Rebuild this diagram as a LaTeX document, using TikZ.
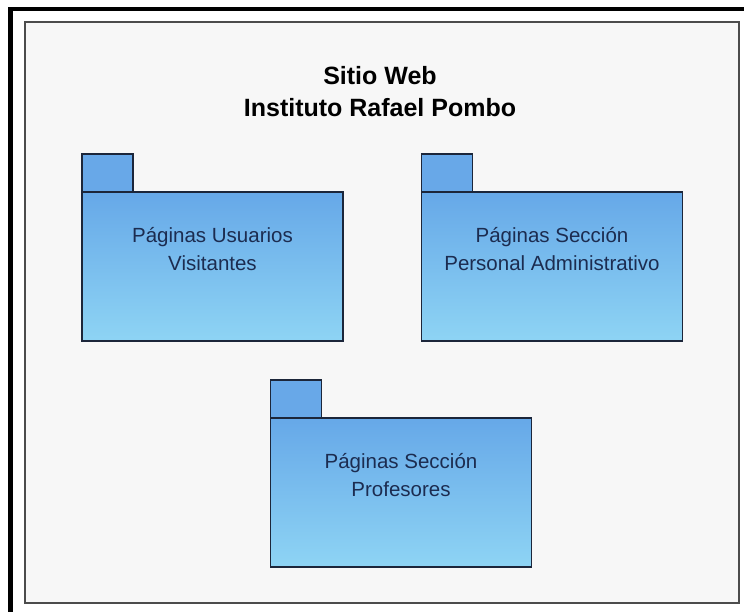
\documentclass[tikz,border=0pt]{standalone}
\usepackage{fontspec}
\setmainfont{Liberation Sans}
\usetikzlibrary{positioning}
\definecolor{pkgborder}{RGB}{28,38,58}
\definecolor{pkgtop}{RGB}{102,168,232}
\definecolor{pkgbottom}{RGB}{142,212,244}
\definecolor{pkgtab}{RGB}{104,168,232}
\definecolor{pkgtext}{RGB}{28,44,80}
\definecolor{framefill}{RGB}{247,247,247}

\begin{document}
\begin{tikzpicture}[
			x=1pt, y=-1pt,
			frame/.style={
				draw=black!70,
				line width=1.8pt,
				fill=framefill
			},
			title/.style={
				font=\fontsize{25}{32}\selectfont\bfseries,
				align=center,
				inner sep=0pt
			},
			package/.style={
				rectangle,
				draw=pkgborder,
				line width=1.2pt,
				top color=pkgtop,
				bottom color=pkgbottom,
				minimum width=261pt,
				minimum height=149pt,
				inner sep=0pt,
				outer sep=0pt
			},
			tab/.style={
				rectangle,
				draw=pkgborder,
				line width=1.2pt,
				fill=pkgtab,
				minimum width=51pt,
				minimum height=38pt,
				inner sep=0pt,
				outer sep=0pt
			},
			desc/.style={
				font=\fontsize{20.5}{28}\selectfont,
				text=pkgtext,
				align=center,
				inner sep=0pt
			}
			]
			
			\useasboundingbox (0,0) rectangle (744,612);
			
			% Frame
			
			\draw[line width=4.5pt] (10.5,612) -- (10.5,9) -- (744,9);
			\draw[frame] (25,22) rectangle (739,603);
			
			% Title
			
			\node [title] (title) at (380,92) {Sitio Web\\Instituto Rafael Pombo};
			
			% Packages
			
			\node [package] (visitantes) at (212.5,266.5) {};
			\node [package] (administrativo) at (552,266.5) {};
			\node [package] (profesores) at (401,492.5) {};
			
			\node [tab, above right=0pt of visitantes.north west] (visitantes_tab) {};
			\node [tab, above right=0pt of administrativo.north west] (administrativo_tab) {};
			\node [tab, above right=0pt of profesores.north west] (profesores_tab) {};
			
			% Labels
			
			\node [desc, below=35.5pt of visitantes.north] (visitantes_desc) {Páginas Usuarios\\Visitantes};
			\node [desc, below=35.5pt of administrativo.north] (administrativo_desc) {Páginas Sección\\Personal Administrativo};
			\node [desc, below=35.5pt of profesores.north] (profesores_desc) {Páginas Sección\\Profesores};
			
		\end{tikzpicture}
\end{document}
